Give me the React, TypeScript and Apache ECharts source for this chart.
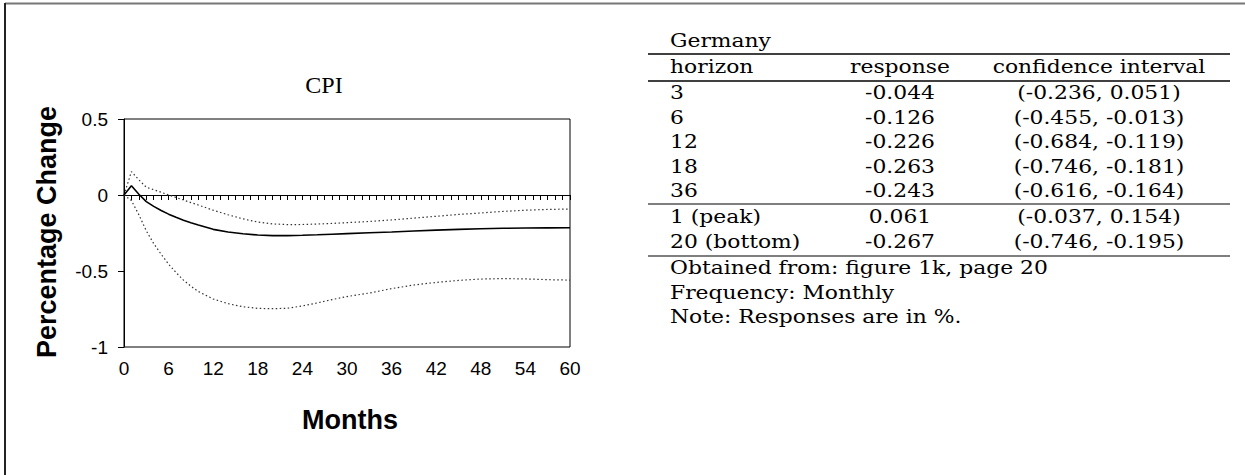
import React, { useEffect, useRef } from "react";
import * as echarts from "echarts";

// ---- chart data (months after shock, % change) ----
const months = [0, 1, 2, 3, 4, 5, 6, 7, 8, 9, 10, 12, 14, 16, 18, 20, 22, 24, 26, 28, 30, 33, 36, 39, 42, 45, 48, 51, 54, 57, 60];
const responseValues = [0, 0.061, 0.005, -0.044, -0.075, -0.102, -0.126, -0.147, -0.166, -0.183, -0.198, -0.226, -0.243, -0.255, -0.263, -0.267, -0.267, -0.265, -0.262, -0.258, -0.254, -0.248, -0.243, -0.237, -0.231, -0.226, -0.222, -0.219, -0.217, -0.216, -0.215];
const upperValues = [0, 0.154, 0.1, 0.051, 0.035, 0.018, 0.0, -0.016, -0.033, -0.05, -0.066, -0.1, -0.13, -0.157, -0.178, -0.19, -0.195, -0.194, -0.191, -0.187, -0.182, -0.174, -0.164, -0.152, -0.14, -0.128, -0.118, -0.108, -0.1, -0.095, -0.092];
const lowerValues = [0, -0.037, -0.13, -0.236, -0.32, -0.39, -0.455, -0.51, -0.56, -0.6, -0.635, -0.684, -0.715, -0.735, -0.746, -0.748, -0.745, -0.73, -0.71, -0.688, -0.668, -0.645, -0.616, -0.592, -0.575, -0.562, -0.553, -0.55, -0.552, -0.557, -0.56];

const chartTitle = "CPI";
const yTitle = "Percentage Change";
const xTitle = "Months";
const xMin = 0;
const xMax = 60;
const xLabelStep = 6;
const yMin = -1;
const yMax = 0.5;
const yStep = 0.5;

// ---- table data ----
const tableCountry = "Germany";
const tableHeader = ["horizon", "response", "confidence interval"];
const horizons = ["3", "6", "12", "18", "36"];
const responses = ["-0.044", "-0.126", "-0.226", "-0.263", "-0.243"];
const intervals = ["(-0.236, 0.051)", "(-0.455, -0.013)", "(-0.684, -0.119)", "(-0.746, -0.181)", "(-0.616, -0.164)"];
const extremaHorizons = ["1 (peak)", "20 (bottom)"];
const extremaResponses = ["0.061", "-0.267"];
const extremaIntervals = ["(-0.037, 0.154)", "(-0.746, -0.195)"];
const notes = ["Obtained from: figure 1k, page 20", "Frequency: Monthly", "Note: Responses are in %."];

const pairs = (ys: number[]) => months.map((m, i) => [m, ys[i]]);

const SANS = "Liberation Sans, Arial, sans-serif";
const SERIF_T = "Liberation Serif, Times New Roman, serif";
const SERIF_T2 = "DejaVu Serif, serif";

function tableGraphics() {
  const els: any[] = [];
  const fs = 19;
  const sx = 1.15;
  const left = 648;
  const right = 1230;
  const col1 = 670;
  const col2 = 900;
  const col3 = 1099;
  const txt = (text: string, x: number, y: number, align: string) => ({
    type: "text",
    x,
    y,
    scaleX: sx,
    style: { text, fill: "#000", fontSize: fs, fontFamily: SERIF_T2, textAlign: align, textVerticalAlign: "middle" },
  });
  const rule = (y: number, w: number) => ({
    type: "line",
    shape: { x1: left, y1: y, x2: right, y2: y },
    style: { stroke: "#000", lineWidth: w },
  });
  els.push(txt(tableCountry, col1, 41, "left"));
  els.push(rule(54, 1.6));
  els.push(txt(tableHeader[0], col1, 67, "left"));
  els.push(txt(tableHeader[1], col2, 67, "center"));
  els.push(txt(tableHeader[2], col3, 67, "center"));
  els.push(rule(81, 1.6));
  const rowH = 24.5;
  horizons.forEach((h, i) => {
    const y = 93 + i * rowH;
    els.push(txt(h, col1, y, "left"));
    els.push(txt(responses[i], col2, y, "center"));
    els.push(txt(intervals[i], col3, y, "center"));
  });
  els.push(rule(204, 1.2));
  extremaHorizons.forEach((h, i) => {
    const y = 217 + i * rowH;
    els.push(txt(h, col1, y, "left"));
    els.push(txt(extremaResponses[i], col2, y, "center"));
    els.push(txt(extremaIntervals[i], col3, y, "center"));
  });
  els.push(rule(256, 1.2));
  notes.forEach((n, i) => {
    els.push(txt(n, col1, 268 + i * rowH, "left"));
  });
  return els;
}

export default function App() {
  const ref = useRef<HTMLDivElement>(null);
  useEffect(() => {
    if (!ref.current) return;
    const chart = echarts.init(ref.current, undefined, { renderer: "svg" });
    const dotted = { color: "#333", width: 1.2, type: [1.5, 2.5] as any };
    chart.setOption({
      animation: false,
      backgroundColor: "#fff",
      grid: { left: 124, top: 119, width: 446, height: 228, show: true, borderColor: "#000", borderWidth: 1, backgroundColor: "transparent" },
      xAxis: [
        {
          type: "value",
          min: xMin,
          max: xMax,
          interval: xLabelStep,
          position: "bottom",
          axisLine: { show: false, onZero: false },
          axisTick: { show: false },
          splitLine: { show: false },
          axisLabel: { show: true, color: "#000", fontSize: 19, fontFamily: SANS, margin: 12 },
        },
        {
          type: "value",
          min: xMin,
          max: xMax,
          interval: 1,
          position: "bottom",
          axisLine: { show: true, onZero: true, lineStyle: { color: "#000", width: 1 } },
          axisTick: { show: true, length: 5, inside: false, lineStyle: { color: "#000", width: 1 } },
          splitLine: { show: false },
          axisLabel: { show: false },
        },
      ],
      yAxis: {
        type: "value",
        min: yMin,
        max: yMax,
        interval: yStep,
        axisLine: { show: true, onZero: false, lineStyle: { color: "#000", width: 1 } },
        axisTick: { show: true, length: 6, lineStyle: { color: "#000" } },
        splitLine: { show: false },
        axisLabel: { color: "#000", fontSize: 19, fontFamily: SANS, margin: 16 },
      },
      series: [
        { type: "line", name: "upper", xAxisIndex: 0, data: pairs(upperValues), showSymbol: false, lineStyle: dotted, z: 3 },
        { type: "line", name: "lower", xAxisIndex: 0, data: pairs(lowerValues), showSymbol: false, lineStyle: dotted, z: 3 },
        { type: "line", name: "response", xAxisIndex: 0, data: pairs(responseValues), showSymbol: false, lineStyle: { color: "#000", width: 1.6 }, z: 4 },
      ],
      graphic: [
        { type: "line", shape: { x1: 5, y1: 3.5, x2: 1245, y2: 3.5 }, style: { stroke: "#777", lineWidth: 2 } },
        { type: "line", shape: { x1: 5, y1: 3, x2: 5, y2: 475 }, style: { stroke: "#222", lineWidth: 2 } },
        {
          type: "text",
          x: 324,
          y: 85,
          style: { text: chartTitle, fill: "#000", fontSize: 24, fontFamily: SERIF_T, textAlign: "center", textVerticalAlign: "middle" },
        },
        {
          type: "text",
          x: 47,
          y: 232,
          rotation: Math.PI / 2,
          style: { text: yTitle, fill: "#000", fontSize: 27, fontWeight: "bold", fontFamily: SANS, textAlign: "center", textVerticalAlign: "middle" },
        },
        {
          type: "text",
          x: 350,
          y: 420,
          style: { text: xTitle, fill: "#000", fontSize: 27, fontWeight: "bold", fontFamily: SANS, textAlign: "center", textVerticalAlign: "middle" },
        },
        ...tableGraphics(),
      ],
    });
    return () => chart.dispose();
  }, []);
  return <div ref={ref} style={{ position: "absolute", left: 0, top: 0, width: 1245, height: 475 }} />;
}
